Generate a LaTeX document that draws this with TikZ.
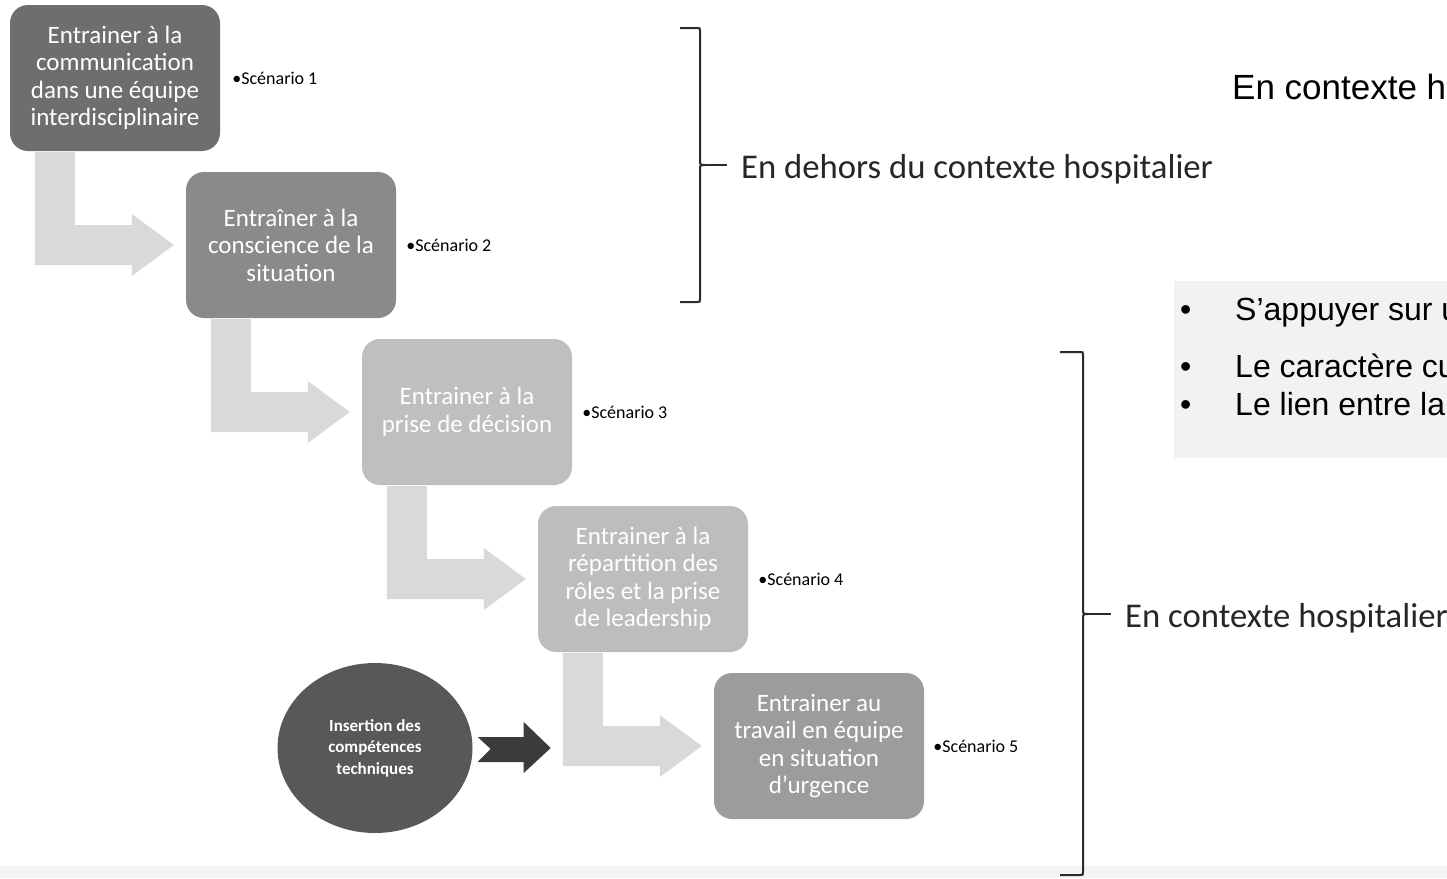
\documentclass[tikz,border=0pt]{standalone}
\usepackage{fontspec}
\setmainfont{Carlito}
\newfontfamily\arialf{Liberation Sans}
\usetikzlibrary{calc,shapes.geometric}
\definecolor{boxA}{HTML}{6E6E6E}
\definecolor{boxB}{HTML}{8A8A8A}
\definecolor{boxC}{HTML}{BFBFBF}
\definecolor{boxD}{HTML}{BDBDBD}
\definecolor{boxE}{HTML}{9C9C9C}
\definecolor{arrgray}{HTML}{D9D9D9}
\definecolor{circgray}{HTML}{58585A}
\definecolor{darkarr}{HTML}{3B3B3B}
\definecolor{panelgray}{HTML}{F2F2F2}
\definecolor{bandgray}{HTML}{F5F5F5}
\definecolor{brk}{HTML}{2A2A2A}
\newcommand\bendarrow[2]{%
  \fill[larrow] ($(#1.south west)+(25,1)$) -- ($(#1.south west)+(65,1)$)
    -- ($(#1.south west |- #2.west)+(65,-20)$) -- ($(#2.west)+(-54,-20)$)
    -- ($(#2.west)+(-54,-31)$) -- ($(#2.west)+(-12,0)$)
    -- ($(#2.west)+(-54,31)$) -- ($(#2.west)+(-54,20)$)
    -- ($(#1.south west |- #2.west)+(25,20)$) -- cycle;}
\begin{document}
\begin{tikzpicture}[x=1pt,y=-1pt,
  stepbox/.style={rounded corners=18pt, minimum width=210pt, minimum height=146pt,
    inner sep=0pt, text=white, align=center, font=\fontsize{25}{27.5}\selectfont},
  scen/.style={anchor=west, inner sep=0pt, text=black, font=\fontsize{18}{21}\selectfont},
  larrow/.style={fill=arrgray},
  bracket/.style={draw=brk, line width=2pt},
  bractext/.style={anchor=base west, inner sep=0pt, text=black!85, font=\fontsize{34.7}{40}\selectfont},
  rtext/.style={anchor=base west, inner sep=0pt, text=black, font=\arialf\fontsize{32}{38}\selectfont}
]
\useasboundingbox (0,0) rectangle (1447,878);
\fill[bandgray] (0,866) rectangle (1447,878);

% process boxes
\node[stepbox, fill=boxA] (b1) at (115,78) {Entrainer à la\\communication\\dans une équipe\\interdisciplinaire};
\node[stepbox, fill=boxB] (b2) at (291,245) {Entraîner à la\\conscience de la\\situation};
\node[stepbox, fill=boxC] (b3) at (467,412) {Entrainer à la\\prise de décision};
\node[stepbox, fill=boxD] (b4) at (643,579) {Entrainer à la\\répartition des\\rôles et la prise\\de leadership};
\node[stepbox, fill=boxE] (b5) at (819,746) {Entrainer au\\travail en équipe\\en situation\\d’urgence};

% bent arrows
\bendarrow{b1}{b2}
\bendarrow{b2}{b3}
\bendarrow{b3}{b4}
\bendarrow{b4}{b5}

% scenario labels
\node[scen] (s1) at ($(b1.east)+(12,0)$) {•Scénario 1};
\node[scen] (s2) at ($(b2.east)+(10,0)$) {•Scénario 2};
\node[scen] (s3) at ($(b3.east)+(10,0)$) {•Scénario 3};
\node[scen] (s4) at ($(b4.east)+(10,0)$) {•Scénario 4};
\node[scen] (s5) at ($(b5.east)+(9,0)$) {•Scénario 5};

% technical skills ellipse and notched arrow
\node[ellipse, fill=circgray, minimum width=195pt, minimum height=170pt, inner sep=0pt,
  text=white, align=center, font=\bfseries\fontsize{17}{21.5}\selectfont] (ins) at (375,748)
  {Insertion des\\compétences\\techniques};
\fill[darkarr] ($(ins.east)+(5,-11)$) -- ($(ins.east)+(51,-11)$) -- ($(ins.east)+(51,-26)$)
  -- ($(ins.east)+(78,0)$) -- ($(ins.east)+(51,25)$) -- ($(ins.east)+(51,14)$)
  -- ($(ins.east)+(5,14)$) -- ($(ins.east)+(18,1)$) -- cycle;

% upper bracket
\draw[bracket] (680,28) -- (697,28) .. controls (700,28) .. (700,31) -- (700,160)
  .. controls (700,165) .. (705,165) .. controls (700,165) .. (700,170) -- (700,299)
  .. controls (700,302) .. (697,302) -- (680,302);
\coordinate (t1) at (705,165);
\draw[bracket] (t1) -- ++(22,0);
\node[bractext] (l1) at (741,178) {En dehors du contexte hospitalier};

% lower bracket
\draw[bracket] (1060,352) -- (1080,352) .. controls (1083,352) .. (1083,355) -- (1083,609)
  .. controls (1083,614) .. (1088,614) .. controls (1083,614) .. (1083,619) -- (1083,872)
  .. controls (1083,875) .. (1080,875) -- (1060,875);
\coordinate (t2) at (1088,614);
\draw[bracket] (t2) -- ++(23,0);
\node[bractext] (l2) at (1125,627) {En contexte hospitalier};

% right panel
\begin{scope}
\clip (0,0) rectangle (1447,878);
\node[anchor=base west, inner sep=0pt, font=\arialf\fontsize{35}{40}\selectfont] (h1) at (1232,99) {En contexte h};
\fill[panelgray] (1174,281) rectangle (1447,458);
\node[rtext] (k1) at (1180,320) {•};
\node[rtext] (p1) at (1235,320) {S’appuyer sur u};
\node[rtext] (k2) at (1180,377) {•};
\node[rtext] (p2) at (1235,377) {Le caractère cu};
\node[rtext] (k3) at (1180,415) {•};
\node[rtext] (p3) at (1235,415) {Le lien entre la};
\end{scope}
\end{tikzpicture}
\end{document}
